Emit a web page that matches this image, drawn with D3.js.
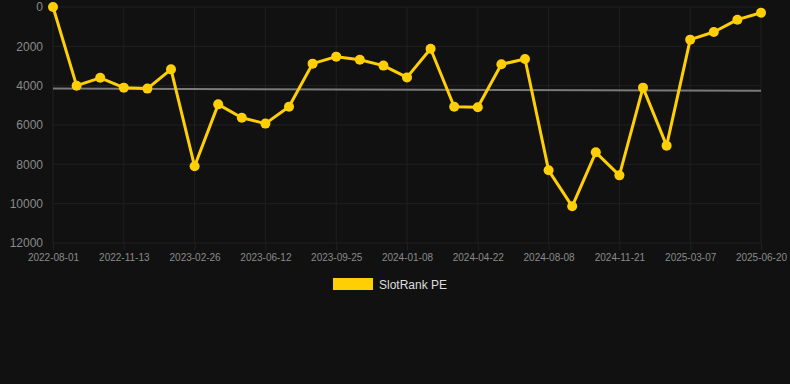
<!DOCTYPE html>
<html><head><meta charset="utf-8">
<script src="https://cdn.jsdelivr.net/npm/d3@7"></script>
<style>
html,body{margin:0;padding:0;background:#111111;}
svg{display:block;}
text{font-family:"Liberation Sans",Arial,Helvetica,sans-serif;}
</style></head>
<body>
<svg id="chart" width="790" height="384"></svg>
<script>
// Category dates (every third one is labelled on the axis)
const dates = ["2022-08-01","2022-09-05","2022-10-09","2022-11-13","2022-12-18","2023-01-22",
  "2023-02-26","2023-04-02","2023-05-07","2023-06-12","2023-07-17","2023-08-21",
  "2023-09-25","2023-10-30","2023-12-04","2024-01-08","2024-02-12","2024-03-18",
  "2024-04-22","2024-05-28","2024-07-03","2024-08-08","2024-09-12","2024-10-17",
  "2024-11-21","2024-12-26","2025-01-30","2025-03-07","2025-04-10","2025-05-15","2025-06-20"];
const slotRankPE = [0,4000,3600,4100,4150,3170,8100,4950,5630,5930,5070,2880,2525,2680,2980,
  3580,2120,5070,5100,2915,2645,8305,10135,7390,8560,4100,7050,1660,1270,645,290];
const trendValues = [4150,4260]; // trend line at first and last date
const yTicks = [0,2000,4000,6000,8000,10000,12000];
const xTickLabels = ["2022-08-01","2022-11-13","2023-02-26","2023-06-12","2023-09-25","2024-01-08",
  "2024-04-22","2024-08-08","2024-11-21","2025-03-07","2025-06-20"];
const seriesName = "SlotRank PE";

(function(){
const svg = d3.select("#chart");
const mL = 53, mR = 761, mT = 7, mB = 243;
const x = d3.scalePoint().domain(dates).range([mL, mR]);
const y = d3.scaleLinear().domain([0,12000]).range([mT, mB]);
const gridColor = "#202020";
const labelColor = "#8a8a8a";
const yellow = "#ffcf05";

// horizontal grid + y axis
const yAxis = d3.axisLeft(y).tickValues(yTicks).tickSize(0).tickPadding(10).tickFormat(d3.format("d"));
const gy = svg.append("g").attr("transform",`translate(${mL},0)`).call(yAxis);
gy.select(".domain").remove();
gy.selectAll("text").attr("fill",labelColor).attr("font-size","12px");
svg.append("g").selectAll("line").data(yTicks).join("line")
  .attr("x1",mL).attr("x2",mR).attr("y1",d=>y(d)).attr("y2",d=>y(d))
  .attr("stroke",gridColor).attr("stroke-width",1);

// vertical grid + x axis
const xAxis = d3.axisBottom(x).tickValues(xTickLabels).tickSize(7).tickPadding(4);
const gx = svg.append("g").attr("transform",`translate(0,${mB})`).call(xAxis);
gx.select(".domain").remove();
gx.selectAll("line").attr("stroke",gridColor);
gx.selectAll("text").attr("fill",labelColor).attr("font-size","10px");
svg.append("g").selectAll("line").data(xTickLabels).join("line")
  .attr("x1",d=>x(d)).attr("x2",d=>x(d)).attr("y1",mT).attr("y2",mB)
  .attr("stroke",gridColor).attr("stroke-width",1);

// trend line
svg.append("line")
  .attr("x1",x(dates[0])).attr("x2",x(dates[dates.length-1]))
  .attr("y1",y(trendValues[0])).attr("y2",y(trendValues[1]))
  .attr("stroke","#7a7a7a").attr("stroke-width",2);

// series line
const pts = dates.map((d,i)=>({d, v:slotRankPE[i]}));
svg.append("path").datum(pts)
  .attr("d", d3.line().x(p=>x(p.d)).y(p=>y(p.v)))
  .attr("fill","none").attr("stroke",yellow).attr("stroke-width",3).attr("stroke-linejoin","round");
svg.append("g").selectAll("circle").data(pts).join("circle")
  .attr("cx",p=>x(p.d)).attr("cy",p=>y(p.v)).attr("r",5).attr("fill",yellow);

// legend
const lg = svg.append("g");
lg.append("rect").attr("x",333).attr("y",278).attr("width",40).attr("height",12).attr("fill",yellow);
lg.append("text").attr("x",379).attr("y",289).attr("fill","#dddddd").attr("font-size","12px").text(seriesName);
})();
</script>
</body></html>
